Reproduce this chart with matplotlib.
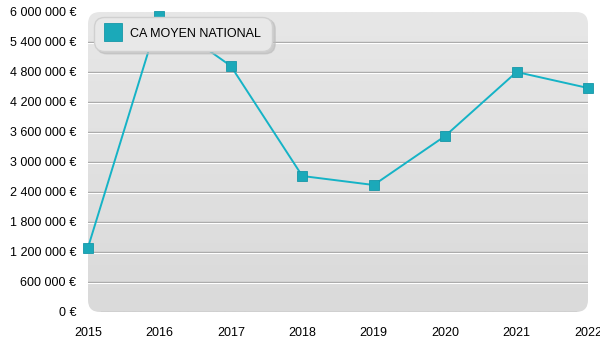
import numpy as np
import matplotlib
matplotlib.use('Agg')
import matplotlib.pyplot as plt
from matplotlib.patches import FancyBboxPatch
from matplotlib.lines import Line2D
import matplotlib.transforms as mtransforms

# data
years = [2015, 2016, 2017, 2018, 2019, 2020, 2021, 2022]
ca_moyen = [1290000, 5930000, 4920000, 2720000, 2540000, 3520000, 4800000, 4480000]
y_ticks = [0, 600000, 1200000, 1800000, 2400000, 3000000, 3600000, 4200000, 4800000, 5400000, 6000000]
series_label = 'CA MOYEN NATIONAL'

plt.rcParams['font.family'] = ['Liberation Sans', 'DejaVu Sans']

fig = plt.figure(figsize=(6, 3.5), dpi=100)
ax = fig.add_axes([88 / 600, 38 / 350, 500 / 600, 300 / 350])
ax.set_xlim(years[0], years[-1])
ax.set_ylim(0, 6000000)

# rounded plot background with a soft vertical gradient
bg = FancyBboxPatch((0, 0), 1, 1, boxstyle='round,pad=0,rounding_size=0.024',
                    mutation_aspect=500 / 300, transform=ax.transAxes,
                    facecolor='none', edgecolor='none', zorder=0)
ax.add_patch(bg)
grad = np.linspace(0, 1, 256).reshape(-1, 1)
img = ax.imshow(grad, cmap=matplotlib.colors.LinearSegmentedColormap.from_list('g', ['#dadada', '#e7e7e7']),
                extent=[0, 1, 0, 1], transform=ax.transAxes, aspect='auto', origin='lower', zorder=0)
img.set_clip_path(bg)
for s in ax.spines.values():
    s.set_visible(False)
ax.patch.set_visible(False)

# grid lines: grey line with a white highlight just below
down = mtransforms.offset_copy(ax.transData, fig=fig, x=0, y=-1, units='dots')
for t in y_ticks[:-1]:
    x0 = 0.025 if t == 0 else 0
    x1 = 0.975 if t == 0 else 1
    ax.axhline(t, xmin=x0, xmax=x1, color='#a8a8a8', lw=1, zorder=1)
    if t > 0:
        ax.plot([years[0], years[-1]], [t, t], color='white', lw=0.8, transform=down, zorder=1)

ax.plot(years, ca_moyen, color='#15b3c6', lw=1.4, zorder=3, clip_on=False)
ax.plot(years, ca_moyen, ls='none', marker='s', ms=7.5, mfc='#1ba9b9', mec='#1697a8', mew=0.6,
        zorder=4, clip_on=False)

ax.set_xticks(years)
ax.set_xticklabels([str(y) for y in years])
ax.set_yticks(y_ticks)
ax.set_yticklabels([f'{v:,}'.replace(',', ' ') + ' €' for v in y_ticks])
ax.tick_params(length=0, labelsize=9, colors='black')
ax.tick_params(axis='y', pad=8.5)
ax.tick_params(axis='x', pad=11)

handle = Line2D([], [], ls='none', marker='s', ms=13, mfc='#1ba9b9', mec='#1697a8', mew=0.6)
leg = ax.legend([handle], [series_label], loc='upper left', bbox_to_anchor=(0.012, 0.985),
                fancybox=True, shadow={'color': '#bbbbbb', 'alpha': 0.6}, framealpha=1,
                facecolor='#e8e8e8', edgecolor='#d0d0d0', fontsize=9,
                handlelength=1.2, handletextpad=0.8, borderpad=0.9, borderaxespad=0)
leg.get_frame().set_boxstyle('round', pad=0, rounding_size=0.8)
leg.set_zorder(5)

fig.savefig('out.png', dpi=100)
